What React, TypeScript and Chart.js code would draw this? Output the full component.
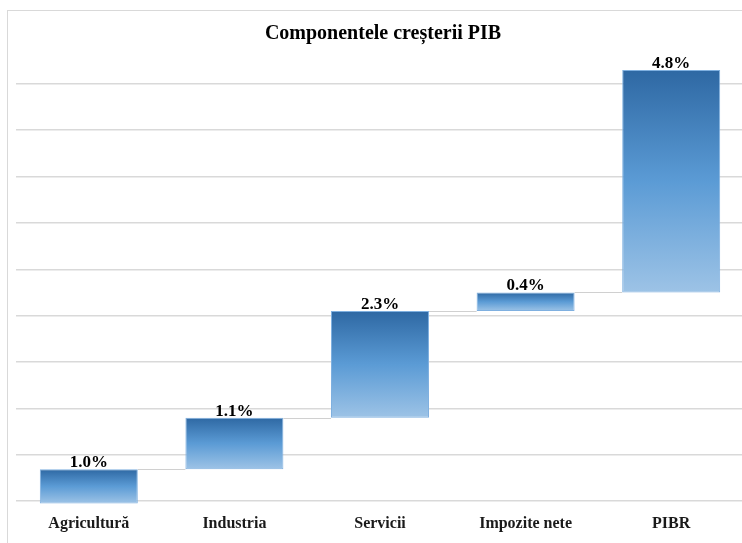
import React, { useEffect, useRef } from "react";
import { Chart, registerables } from "chart.js";

Chart.register(...registerables);

const TITLE = "Componentele creșterii PIB";
const CATEGORIES = ["Agricultură", "Industria", "Servicii", "Impozite nete", "PIBR"];
const BAR_START = [-0.05, 0.69, 1.8, 4.1, 4.5];
const BAR_END = [0.69, 1.8, 4.1, 4.5, 9.3];
const VALUE_LABELS = ["1.0%", "1.1%", "2.3%", "0.4%", "4.8%"];
const Y_TICKS = [0, 1, 2, 3, 4, 5, 6, 7, 8, 9];

const SERIF = "'Liberation Serif', 'Times New Roman', serif";

const overlayPlugin = {
  id: "overlay",
  afterDatasetsDraw(chart: any) {
    const ctx = chart.ctx;
    const meta = chart.getDatasetMeta(0);
    const yScale = chart.scales.y;
    ctx.save();
    // connectors
    ctx.strokeStyle = "#d0d0d0";
    ctx.lineWidth = 1;
    for (let i = 0; i < meta.data.length - 1; i++) {
      const a = meta.data[i] as any;
      const b = meta.data[i + 1] as any;
      const y = Math.round(yScale.getPixelForValue(BAR_END[i])) + 0.5;
      ctx.beginPath();
      ctx.moveTo(a.x + a.width / 2, y);
      ctx.lineTo(b.x - b.width / 2, y);
      ctx.stroke();
    }
    // value labels
    ctx.fillStyle = "#000";
    ctx.font = `bold 17px ${SERIF}`;
    ctx.textAlign = "center";
    ctx.textBaseline = "alphabetic";
    meta.data.forEach((el: any, i: number) => {
      const top = Math.min(el.y, el.base);
      ctx.fillText(VALUE_LABELS[i], el.x, top - 2);
    });
    // title
    ctx.font = `bold 20px ${SERIF}`;
    ctx.fillText(TITLE, 383, 39);
    ctx.restore();
  },
};

export default function App() {
  const canvasRef = useRef<HTMLCanvasElement | null>(null);

  useEffect(() => {
    const canvas = canvasRef.current;
    if (!canvas) return;
    const chart = new Chart(canvas, {
      type: "bar",
      data: {
        labels: CATEGORIES,
        datasets: [
          {
            data: CATEGORIES.map((_, i) => [BAR_START[i], BAR_END[i]]) as any,
            backgroundColor: (c: any) => {
              const ch = c.chart;
              const area = ch.chartArea;
              if (!area || c.dataIndex === undefined) return "#5b9bd5";
              const y = ch.scales.y;
              const i = c.dataIndex;
              const t = y.getPixelForValue(BAR_END[i]);
              const b = y.getPixelForValue(BAR_START[i]);
              const g = ch.ctx.createLinearGradient(0, t, 0, b);
              g.addColorStop(0, "#2e68a3");
              g.addColorStop(0.5, "#5b9bd5");
              g.addColorStop(1, "#9dc3e6");
              return g;
            },
            borderColor: "#7fb0e0",
            borderWidth: 1,
            borderSkipped: false,
            categoryPercentage: 1,
            barPercentage: 0.673,
          },
        ],
      },
      options: {
        animation: false,
        responsive: true,
        maintainAspectRatio: false,
        layout: { padding: { left: 16, right: 16, top: 56, bottom: 2 } },
        plugins: {
          legend: { display: false },
          title: { display: false },
          tooltip: { enabled: false },
        },
        scales: {
          x: {
            grid: { display: false, drawTicks: false },
            border: { display: false },
            ticks: {
              color: "#1a1a1a",
              padding: 8,
              font: { family: SERIF, size: 16, weight: "bold" },
            },
          },
          y: {
            min: -0.1,
            max: 9.6,
            afterBuildTicks: (scale: any) => {
              scale.ticks = Y_TICKS.map((v) => ({ value: v }));
            },
            grid: { color: "#d9d9d9", lineWidth: 1.5, drawTicks: false },
            border: { display: false },
            ticks: { display: false },
          },
        },
      },
      plugins: [overlayPlugin],
    });
    return () => chart.destroy();
  }, []);

  return (
    <div
      style={{
        position: "fixed",
        left: 0,
        top: 0,
        width: 742,
        height: 543,
        overflow: "hidden",
        background: "#fff",
      }}
    >
      <div
        style={{
          position: "absolute",
          left: 7,
          top: 10,
          width: 800,
          height: 600,
          border: "1px solid #d9d9d9",
          boxSizing: "border-box",
        }}
      />
      <div style={{ position: "absolute", left: 0, top: 0, width: 760, height: 543 }}>
        <canvas ref={canvasRef} />
      </div>
    </div>
  );
}
